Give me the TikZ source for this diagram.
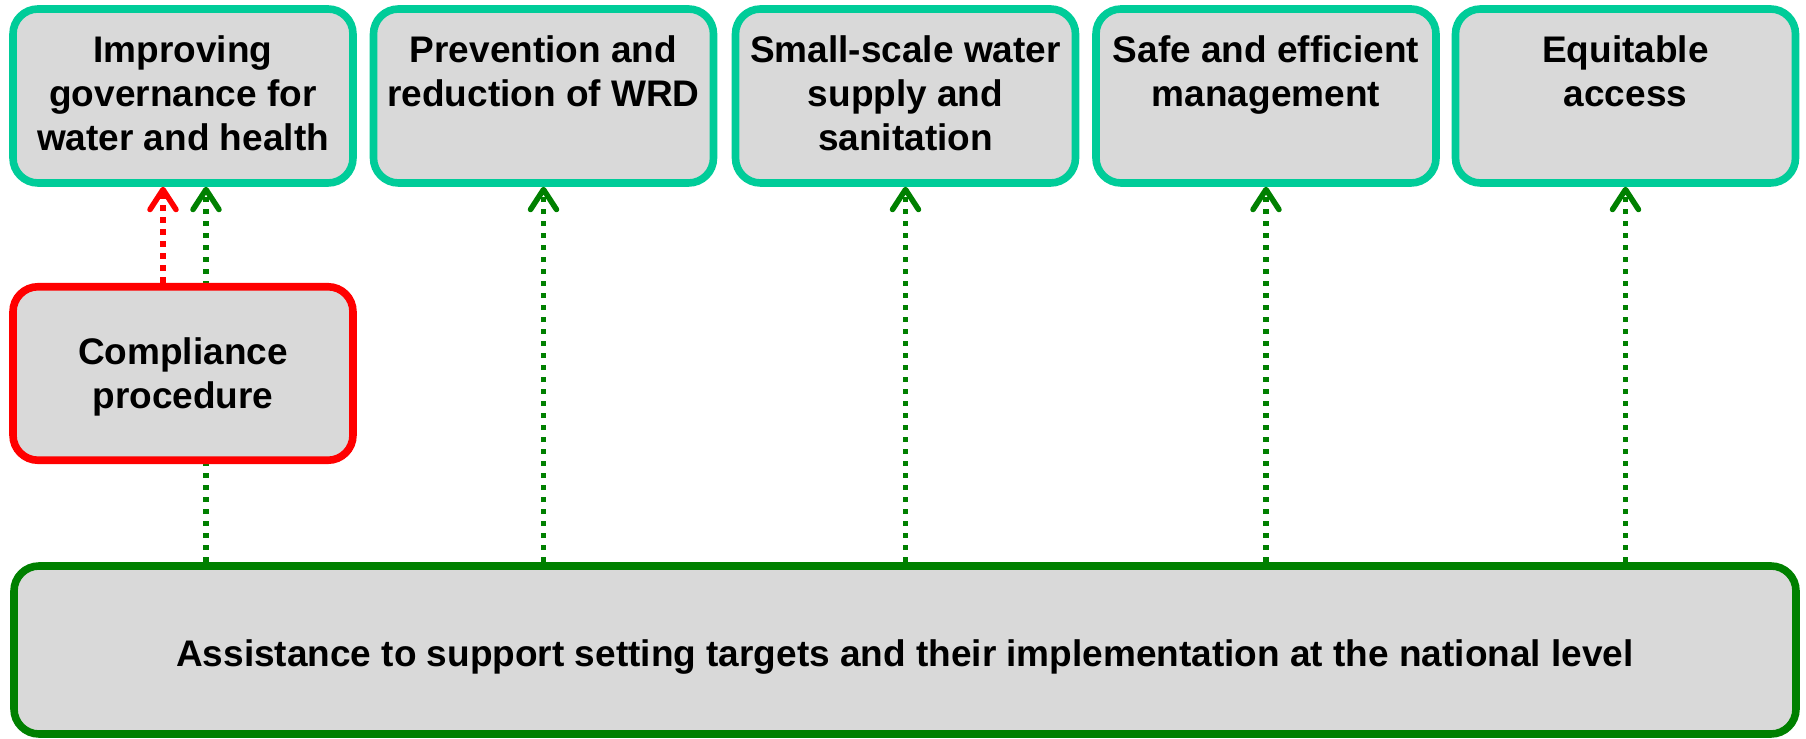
\documentclass[tikz,border=0pt]{standalone}
\usepackage{fontspec}
\setmainfont{Liberation Sans}
\usetikzlibrary{arrows.meta,backgrounds}

\definecolor{boxgray}{HTML}{D9D9D9}
\definecolor{areateal}{HTML}{00CC99}
\definecolor{linkgreen}{HTML}{008000}
\definecolor{linkred}{HTML}{FF0000}

% text of a programme area, hung from the top of its box
\newcommand{\areatext}[1]{\parbox[c][87pt][t]{170pt}{\centering\rule{0pt}{26.6pt}#1}}

\begin{document}
\begin{tikzpicture}[x=0.5pt,y=0.5pt,
    box/.style={draw,line width=3.8pt,fill=boxgray,rounded corners=12.5pt,
        font=\fontsize{18.5}{22}\selectfont\bfseries},
    area/.style={box,draw=areateal,inner sep=0pt,minimum width=170pt,minimum height=87pt},
    link/.style={line width=2.75pt,dash pattern=on 2.75pt off 3.25pt,
        -{Straight Barb[length=10pt,width=13pt,round]}}]
    \useasboundingbox (0,0) rectangle (1806,739);

    % Programme areas along the top
    \node[area] (gov) at (183,643) {\areatext{Improving\\governance for\\water and health}};
    \node[area] (wrd) at (543.5,643) {\areatext{Prevention and\\reduction of WRD}};
    \node[area] (small) at (905.5,643) {\areatext{Small-scale water\\supply and\\sanitation}};
    \node[area] (safe) at (1266,643) {\areatext{Safe and efficient\\management}};
    \node[area] (equit) at (1625.5,643) {\areatext{Equitable\\access}};

    % Compliance procedure under the first area
    \node[box,draw=linkred,align=center,text depth=0pt,minimum width=170pt,minimum height=86.75pt]
        (comp) at (183,365.5) {Compliance\\procedure};

    % Assistance across the bottom
    \node[box,draw=linkgreen,text height=17pt,text depth=0pt,minimum width=891pt,minimum height=84pt]
        (assist) at (905,89) {Assistance to support setting targets and their implementation at the national level};

    % Links up to the areas
    \draw[link,linkred] ([xshift=-10pt]comp.north) -- ([xshift=-10pt]gov.south);
    \coordinate (govin) at ([xshift=11.5pt]gov.south);
    \begin{scope}[on background layer]
        \draw[link,linkgreen] (govin |- assist.north) -- (govin);
    \end{scope}
    \foreach \target in {wrd,small,safe,equit}
        \draw[link,linkgreen] (\target.south |- assist.north) -- (\target.south);
\end{tikzpicture}
\end{document}
